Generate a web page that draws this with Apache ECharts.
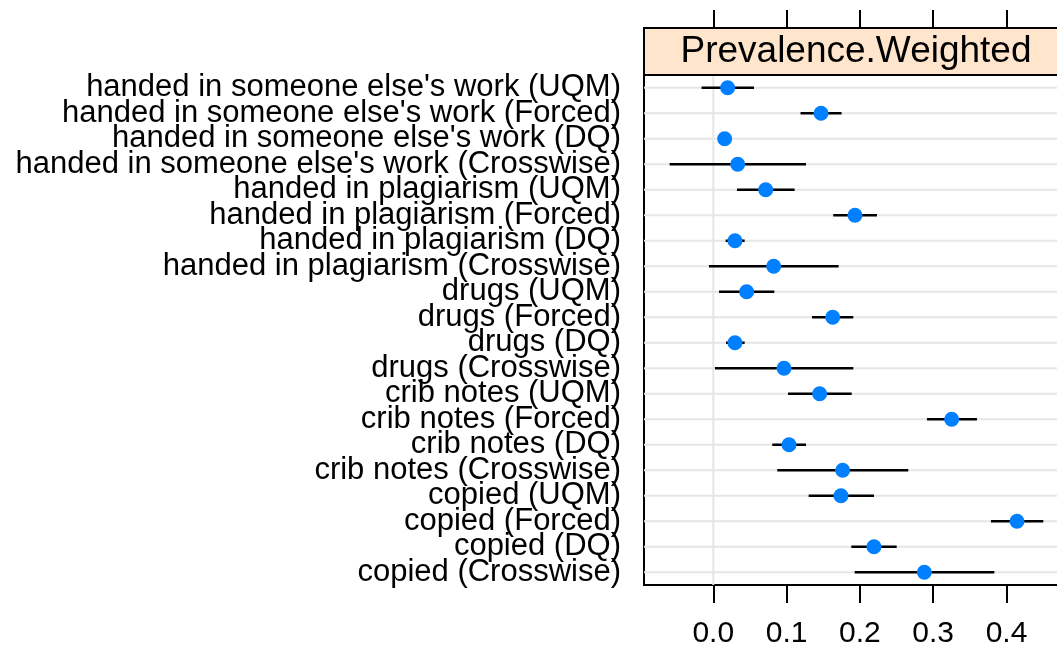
<!DOCTYPE html>
<html>
<head>
<meta charset="utf-8">
<script src="https://cdn.jsdelivr.net/npm/echarts@6/dist/echarts.min.js"></script>
<style>
  html, body { margin: 0; padding: 0; background: #fff; }
  #main { width: 1057px; height: 650px; }
</style>
</head>
<body>
<div id="main"></div>
<script>
// rows, top to bottom
var categories = [
  "handed in someone else's work (UQM)",
  "handed in someone else's work (Forced)",
  "handed in someone else's work (DQ)",
  "handed in someone else's work (Crosswise)",
  "handed in plagiarism (UQM)",
  "handed in plagiarism (Forced)",
  "handed in plagiarism (DQ)",
  "handed in plagiarism (Crosswise)",
  "drugs (UQM)",
  "drugs (Forced)",
  "drugs (DQ)",
  "drugs (Crosswise)",
  "crib notes (UQM)",
  "crib notes (Forced)",
  "crib notes (DQ)",
  "crib notes (Crosswise)",
  "copied (UQM)",
  "copied (Forced)",
  "copied (DQ)",
  "copied (Crosswise)"
];
var estimate = [0.0196, 0.147, 0.0155, 0.0333, 0.0715, 0.1933, 0.0296, 0.0824,
  0.0455, 0.1629, 0.0296, 0.0965, 0.1451, 0.3252, 0.1033, 0.1765,
  0.1742, 0.4143, 0.2192, 0.2879];
var lower = [-0.016, 0.119, 0.010, -0.0595, 0.0323, 0.1637, 0.0169, -0.0059,
  0.0078, 0.1347, 0.0174, 0.0023, 0.1019, 0.2915, 0.0805, 0.0873,
  0.1301, 0.3788, 0.1883, 0.1929];
var upper = [0.0555, 0.175, 0.021, 0.1265, 0.111, 0.2233, 0.0428, 0.171,
  0.0833, 0.191, 0.0428, 0.191, 0.1888, 0.3597, 0.1265, 0.266,
  0.2192, 0.4502, 0.2502, 0.3834];
var tickValues = [0, 0.1, 0.2, 0.3, 0.4];
var refValue = 0;
var panelTitle = 'Prevalence.Weighted';

var font = "'Liberation Sans', Arial, Helvetica, sans-serif";

var barData = categories.map(function(c, i) {
  return [i, lower[i], upper[i]];
});
var dotData = categories.map(function(c, i) {
  return [estimate[i], i];
});

var chart = echarts.init(document.getElementById('main'));
var option = {
  animation: false,
  backgroundColor: '#fff',
  grid: {
    left: 644,
    right: -11,
    top: 75,
    bottom: 65,
    show: true,
    borderColor: '#000',
    borderWidth: 2,
    backgroundColor: 'transparent',
    outerBoundsMode: 'none'
  },
  xAxis: [{
    type: 'value',
    position: 'bottom',
    min: -0.0945,
    max: 0.4839,
    splitLine: { show: false },
    axisLine: { show: false },
    axisTick: {
      show: true,
      length: 18,
      customValues: tickValues,
      lineStyle: { color: '#000', width: 2 }
    },
    axisLabel: {
      customValues: tickValues,
      margin: 34,
      fontSize: 30,
      fontFamily: font,
      color: '#000',
      formatter: function(v) { return v.toFixed(1); }
    }
  }, {
    type: 'value',
    position: 'top',
    offset: 47,
    min: -0.0945,
    max: 0.4839,
    splitLine: { show: false },
    axisLine: { show: false },
    axisTick: {
      show: true,
      length: 18,
      customValues: tickValues,
      lineStyle: { color: '#000', width: 2 }
    },
    axisLabel: { show: false }
  }],
  yAxis: {
    type: 'category',
    data: categories,
    inverse: true,
    boundaryGap: true,
    axisLine: { show: false },
    axisTick: { show: false },
    splitLine: { show: false },
    axisLabel: {
      margin: 23,
      fontSize: 31,
      fontFamily: font,
      color: '#000',
      interval: 0
    }
  },
  graphic: [{
    type: 'rect',
    shape: { x: 644, y: 28, width: 424, height: 47 },
    style: { fill: '#ffe5cc', stroke: '#000', lineWidth: 2 },
    z: 10
  }, {
    type: 'text',
    x: 856,
    y: 52,
    style: {
      text: panelTitle,
      fontSize: 37,
      fontFamily: font,
      fill: '#000',
      align: 'center',
      verticalAlign: 'middle'
    },
    z: 11
  }],
  series: [{
    type: 'custom',
    name: 'interval',
    data: barData,
    encode: { x: [1, 2], y: 0 },
    z: 1,
    clip: true,
    renderItem: function(params, api) {
      var cs = params.coordSys;
      var a = api.coord([api.value(1), api.value(0)]);
      var b = api.coord([api.value(2), api.value(0)]);
      var children = [];
      if (params.dataIndex === 0) {
        // reference line at zero, under all bars
        var z0 = api.coord([refValue, 0]);
        children.push({
          type: 'line',
          shape: { x1: z0[0], y1: cs.y, x2: z0[0], y2: cs.y + cs.height },
          style: { stroke: '#e6e6e6', lineWidth: 2 }
        });
      }
      children.push({
        type: 'line',
        shape: { x1: cs.x, y1: a[1], x2: cs.x + cs.width, y2: a[1] },
        style: { stroke: '#e6e6e6', lineWidth: 2 }
      }, {
        type: 'line',
        shape: { x1: a[0], y1: a[1], x2: b[0], y2: b[1] },
        style: { stroke: '#000', lineWidth: 2.6 }
      });
      return { type: 'group', children: children };
    }
  }, {
    type: 'scatter',
    name: 'estimate',
    data: dotData,
    symbol: 'circle',
    symbolSize: 15,
    itemStyle: { color: '#0080ff', opacity: 1 },
    z: 5
  }]
};
chart.setOption(option);
</script>
</body>
</html>
